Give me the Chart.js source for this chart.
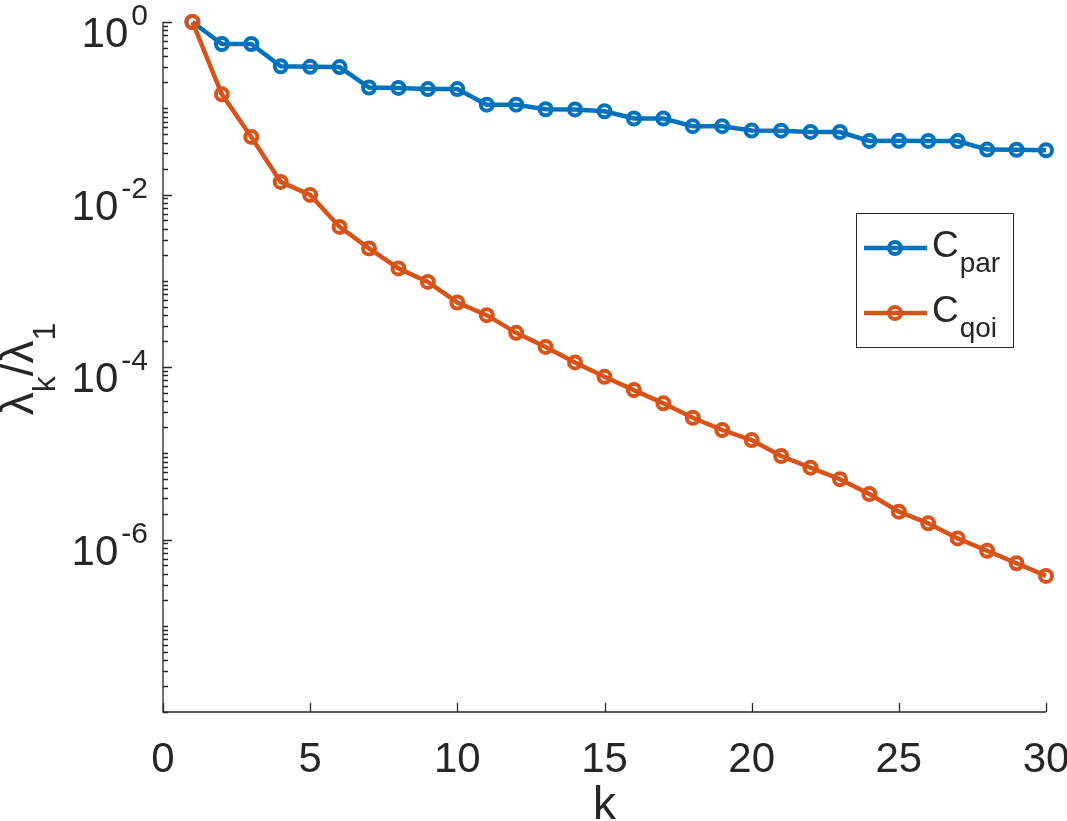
<!DOCTYPE html>
<html>
<head>
<meta charset="utf-8">
<script src="https://cdn.jsdelivr.net/npm/chart.js@4"></script>
<style>
  html, body { margin: 0; padding: 0; background: #fff; }
  #wrap { width: 1067px; height: 821px; position: relative; }
</style>
</head>
<body>
<div id="wrap"><canvas id="eig-chart"></canvas></div>
<script>
// ========================================
// Data
// ========================================
const ks = [1, 2, 3, 4, 5, 6, 7, 8, 9, 10, 11, 12, 13, 14, 15,
            16, 17, 18, 19, 20, 21, 22, 23, 24, 25, 26, 27, 28, 29, 30];
const cPar = [1, 0.556, 0.556, 0.307, 0.302, 0.30, 0.174, 0.172, 0.167, 0.167,
              0.110, 0.110, 0.0973, 0.097, 0.0923, 0.076, 0.076, 0.0619, 0.062, 0.0551,
              0.055, 0.0532, 0.053, 0.0418, 0.042, 0.0418, 0.0416, 0.0332, 0.033, 0.0326];
const cQoi = [1, 0.145, 0.0465, 0.0140, 0.0099, 0.00421, 0.00237, 0.00139, 0.00097, 0.00056,
              0.000399, 0.000249, 0.000171, 0.000113, 7.7e-5, 5.4e-5, 3.79e-5, 2.58e-5, 1.86e-5, 1.42e-5,
              9.3e-6, 6.8e-6, 5.0e-6, 3.37e-6, 2.10e-6, 1.54e-6, 1.03e-6, 7.4e-7, 5.3e-7, 3.78e-7];
const xTicks = [0, 5, 10, 15, 20, 25, 30];
const yTickExps = [0, -2, -4, -6];
const yDecades = [0, -1, -2, -3, -4, -5, -6, -7, -8];

const BLUE = '#0072BD';
const ORANGE = '#D95319';
const AXIS = '#262626';
const FONT = "'Liberation Sans', Arial, sans-serif";

// ========================================
// Axes, labels and legend (MATLAB look)
// ========================================
const matlabAxes = {
    id: 'matlabAxes',
    afterDraw(chart) {
        const ctx = chart.ctx;
        const xs = chart.scales.x, ys = chart.scales.y;
        const a = chart.chartArea;
        ctx.save();
        ctx.strokeStyle = AXIS;
        ctx.lineWidth = 1.3;

        // axis lines (left + bottom only)
        ctx.beginPath();
        ctx.moveTo(a.left, a.top);
        ctx.lineTo(a.left, a.bottom);
        ctx.lineTo(a.right, a.bottom);
        ctx.stroke();

        // x ticks, pointing inward
        ctx.beginPath();
        xTicks.forEach(v => {
            const px = Math.round(xs.getPixelForValue(v)) + 0.5;
            ctx.moveTo(px, a.bottom);
            ctx.lineTo(px, a.bottom - 9);
        });
        // y ticks: major at labelled decades, minor elsewhere
        yDecades.forEach(e => {
            const base = Math.pow(10, e);
            const py = Math.round(ys.getPixelForValue(base)) + 0.5;
            const major = yTickExps.includes(e);
            ctx.moveTo(a.left, py);
            ctx.lineTo(a.left + (major ? 9 : 5), py);
            if (e > -8) {
                for (let m = 2; m <= 9; m++) {
                    const my = Math.round(ys.getPixelForValue(m * base / 10)) + 0.5;
                    ctx.moveTo(a.left, my);
                    ctx.lineTo(a.left + 5, my);
                }
            }
        });
        ctx.stroke();

        // y tick labels 10^n
        ctx.fillStyle = AXIS;
        ctx.textBaseline = 'alphabetic';
        ctx.textAlign = 'left';
        yTickExps.forEach(e => {
            const py = ys.getPixelForValue(Math.pow(10, e));
            const exp = String(e);
            ctx.font = '30px ' + FONT;
            const ew = ctx.measureText(exp).width;
            const ex = 148 - ew;
            ctx.fillText(exp, ex, py + 3);
            ctx.font = '42px ' + FONT;
            const bw = ctx.measureText('10').width;
            ctx.fillText('10', ex - bw - 3, py + 25);
        });

        // x label
        ctx.font = '46px ' + FONT;
        ctx.textAlign = 'center';
        ctx.fillText('k', (a.left + a.right) / 2, 819);

        // y label  λ_k / λ_1  (rotated)
        ctx.save();
        ctx.translate(33, (a.top + a.bottom) / 2 + 2);
        ctx.rotate(-Math.PI / 2);
        const parts = [
            { t: 'λ', f: 46, dy: 0 },
            { t: 'k', f: 32, dy: 22 },
            { t: '/', f: 46, dy: 0 },
            { t: 'λ', f: 46, dy: 0 },
            { t: '1', f: 32, dy: 22 }
        ];
        ctx.textAlign = 'left';
        let total = 0;
        parts.forEach(p => { ctx.font = p.f + 'px ' + FONT; p.w = ctx.measureText(p.t).width; total += p.w; });
        let cx = -total / 2;
        parts.forEach(p => {
            ctx.font = p.f + 'px ' + FONT;
            ctx.fillText(p.t, cx, p.dy);
            cx += p.w;
        });
        ctx.restore();

        // legend
        ctx.fillStyle = '#fff';
        ctx.fillRect(856.5, 213.5, 157, 134);
        ctx.strokeStyle = AXIS;
        ctx.lineWidth = 1;
        ctx.strokeRect(856.5, 213.5, 157, 134);
        const rows = [
            { c: BLUE, y: 248, sub: 'par' },
            { c: ORANGE, y: 313, sub: 'qoi' }
        ];
        rows.forEach(r => {
            ctx.strokeStyle = r.c;
            ctx.lineWidth = 4.5;
            ctx.beginPath();
            ctx.moveTo(864, r.y);
            ctx.lineTo(927, r.y);
            ctx.stroke();
            ctx.lineWidth = 4;
            ctx.beginPath();
            ctx.arc(895, r.y, 6, 0, Math.PI * 2);
            ctx.stroke();
            ctx.fillStyle = AXIS;
            ctx.textAlign = 'left';
            ctx.font = '37px ' + FONT;
            ctx.fillText('C', 932, r.y + 9);
            const cw = ctx.measureText('C').width;
            ctx.font = '28px ' + FONT;
            ctx.fillText(r.sub, 932 + cw + 1, r.y + 24);
        });
        ctx.restore();
    }
};

// ========================================
// Chart
// ========================================
const toPoints = arr => ks.map((k, i) => ({ x: k, y: arr[i] }));

function seriesStyle(color, order) {
    return {
        borderColor: color,
        borderWidth: 4.5,
        pointRadius: 6,
        pointBorderWidth: 4,
        pointBackgroundColor: 'rgba(0,0,0,0)',
        pointBorderColor: color,
        tension: 0,
        clip: false,
        order: order
    };
}

new Chart(document.getElementById('eig-chart'), {
    type: 'line',
    data: {
        datasets: [
            Object.assign({ label: 'C_par', data: toPoints(cPar) }, seriesStyle(BLUE, 1)),
            Object.assign({ label: 'C_qoi', data: toPoints(cQoi) }, seriesStyle(ORANGE, 0))
        ]
    },
    options: {
        responsive: true,
        maintainAspectRatio: false,
        animation: false,
        layout: { padding: { top: 22, right: 21, left: 0, bottom: 0 } },
        scales: {
            x: {
                type: 'linear',
                min: 0,
                max: 30,
                grid: { display: false },
                border: { display: false },
                ticks: {
                    stepSize: 5,
                    padding: 15,
                    color: AXIS,
                    font: { family: FONT, size: 42 },
                    maxRotation: 0
                },
                afterFit(scale) {
                    scale.height = 109;
                    scale.paddingLeft = 0;
                    scale.paddingRight = 0;
                }
            },
            y: {
                type: 'logarithmic',
                min: 1e-8,
                max: 1,
                grid: { display: false },
                border: { display: false },
                ticks: { display: false },
                afterFit(scale) {
                    scale.width = 163;
                    scale.paddingTop = 0;
                    scale.paddingBottom = 0;
                }
            }
        },
        plugins: {
            legend: { display: false },
            tooltip: { enabled: false }
        }
    },
    plugins: [matlabAxes]
});
</script>
</body>
</html>
